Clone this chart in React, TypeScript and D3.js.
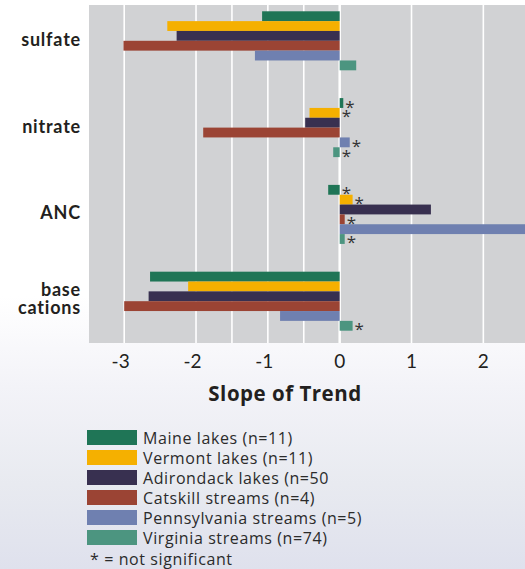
import * as d3 from "d3";

// categories (top to bottom) and series
const categories = ["sulfate", "nitrate", "ANC", "base cations"];
const series = [
  "Maine lakes (n=11)",
  "Vermont lakes (n=11)",
  "Adirondack lakes (n=50",
  "Catskill streams (n=4)",
  "Pennsylvania streams (n=5)",
  "Virginia streams (n=74)",
];
const colors = ["#1f7556", "#f5b000", "#383050", "#9b4434", "#6f80b0", "#4c9580"];

// slope of trend, one array per category, in series order
const sulfate = [-1.08, -2.4, -2.27, -3.01, -1.18, 0.23];
const nitrate = [0.05, -0.42, -0.48, -1.9, 0.14, -0.09];
const anc = [-0.16, 0.18, 1.27, 0.07, 2.9, 0.07];
const baseCations = [-2.64, -2.11, -2.66, -3.0, -0.83, 0.18];

// true = not significant (*)
const nsSulfate = [false, false, false, false, false, false];
const nsNitrate = [true, true, false, false, true, true];
const nsAnc = [true, true, false, true, false, true];
const nsBase = [false, false, false, false, false, true];

const xTicks = [-3, -2, -1, 0, 1, 2];
const gridValues = [-3, -2, -1.5, -1, -0.5, 0, 1, 2];

const W = 525;
const H = 569;
const font = "Lato, 'Open Sans', sans-serif";
const font2 = "'Open Sans', Lato, sans-serif";

export default function App() {
  const values = [sulfate, nitrate, anc, baseCations];
  const notSig = [nsSulfate, nsNitrate, nsAnc, nsBase];

  const left = 89, right = 525, top = 5, bottom = 343;
  const x = d3.scaleLinear().domain([-3.49, 2.58]).range([left, right]);
  const y = d3
    .scaleBand<string>()
    .domain(categories)
    .range([2, 340])
    .paddingInner(0.32)
    .paddingOuter(0.107);
  const inner = d3.scaleBand<string>().domain(series).range([0, y.bandwidth()]);

  return (
    <svg width={W} height={H} style={{ display: "block", position: "absolute", left: 0, top: 0 }}>
      <defs>
        <linearGradient id="bg" x1="0" y1="0" x2="0" y2="1">
          <stop offset="0" stopColor="#ffffff" />
          <stop offset="0.52" stopColor="#ffffff" />
          <stop offset="0.68" stopColor="#f3f3f8" />
          <stop offset="0.85" stopColor="#e8eaf0" />
          <stop offset="1" stopColor="#dfe1ed" />
        </linearGradient>
        <clipPath id="plot">
          <rect x={left} y={top} width={right - left} height={bottom - top} />
        </clipPath>
      </defs>
      <rect width={W} height={H} fill="url(#bg)" />
      <rect x={left} y={top} width={right - left} height={bottom - top} fill="#d1d2d4" />
      {gridValues.map((g) => (
        <line key={g} x1={x(g)} x2={x(g)} y1={top} y2={bottom} stroke="#fff" strokeWidth={g === 0 ? 2.5 : 1.6} />
      ))}

      <g clipPath="url(#plot)">
        {categories.map((c, ci) =>
          values[ci].map((v, si) => (
            <rect
              key={c + si}
              x={x(Math.min(0, v))}
              width={Math.abs(x(v) - x(0))}
              y={(y(c) ?? 0) + (inner(series[si]) ?? 0)}
              height={inner.bandwidth()}
              fill={colors[si]}
            />
          ))
        )}
      </g>

      {categories.map((c, ci) =>
        values[ci].map((v, si) =>
          notSig[ci][si] ? (
            <text
              key={"s" + c + si}
              x={x(Math.max(0, v)) + 2}
              y={(y(c) ?? 0) + (inner(series[si]) ?? 0) + inner.bandwidth() / 2 + 9.5}
              fontFamily={font2}
              fontSize={17}
              fill="#333"
            >
              *
            </text>
          ) : null
        )
      )}

      {categories.map((c) => {
        const cy = (y(c) ?? 0) + y.bandwidth() / 2;
        const words = c === "base cations" ? ["base", "cations"] : [c];
        return (
          <text
            key={c}
            textAnchor="end"
            fontFamily={font}
            fontWeight="bold"
            fontSize={18}
            letterSpacing={0.8}
            fill="#231f20"
          >
            {words.map((w, i) => (
              <tspan key={w} x={81} y={words.length > 1 ? cy - 5 + i * 18 : cy + 5}>
                {w}
              </tspan>
            ))}
          </text>
        );
      })}

      {xTicks.map((t) => (
        <text key={t} x={x(t) + 5.5} y={368} textAnchor="end" fontFamily={font} fontSize={19} fill="#231f20">
          {t < 0 ? "-" + Math.abs(t) : t}
        </text>
      ))}
      <text
        x={285}
        y={401}
        textAnchor="middle"
        fontFamily={font2}
        fontWeight="bold"
        fontSize={20.5}
        letterSpacing={0.5}
        fill="#231f20"
      >
        Slope of Trend
      </text>

      {series.map((s, i) => (
        <g key={s}>
          <rect x={87} y={430 + i * 20} width={50} height={15} fill={colors[i]} />
          <text x={143} y={444 + i * 20} fontFamily={font2} fontSize={16} letterSpacing={0.6} fill="#2b2b2b">
            {s}
          </text>
        </g>
      ))}
      <text x={90} y={565} fontFamily={font2} fontSize={16} letterSpacing={0.6} fill="#2b2b2b">
        * = not significant
      </text>
    </svg>
  );
}
